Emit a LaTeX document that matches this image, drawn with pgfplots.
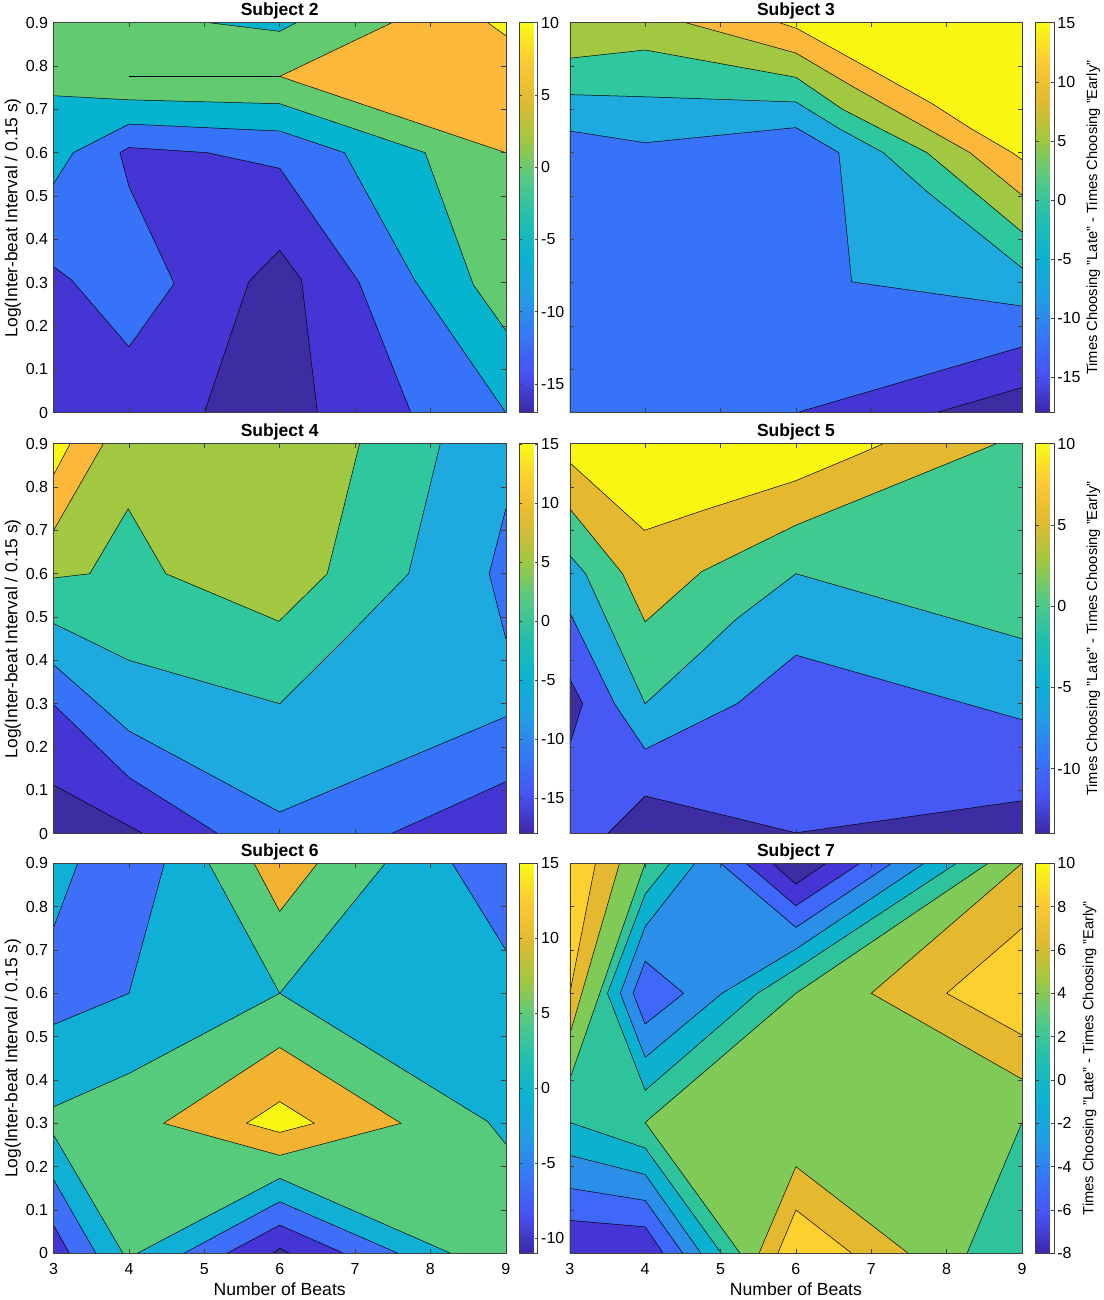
\documentclass[border=0pt]{standalone}
\usepackage{fontspec}
\setmainfont{Liberation Sans}
\usepackage{pgfplots}
\pgfplotsset{compat=1.18}
\newcommand\ticksize{\fontsize{16}{18}\selectfont}
\definecolor{yel}{HTML}{FAF512}
\definecolor{org}{HTML}{FBB83B}
\definecolor{olv}{HTML}{A2C740}
\definecolor{tgr}{HTML}{2EC79E}
\definecolor{cyb}{HTML}{1FAADF}
\definecolor{blu}{HTML}{3673F8}
\definecolor{drk}{HTML}{4635D5}
\definecolor{dst}{HTML}{3C2DA3}
\definecolor{grn}{HTML}{62CB70}
\definecolor{tea}{HTML}{06B4D0}
\definecolor{gol}{HTML}{E4B930}
\definecolor{mgr}{HTML}{40CA90}
\definecolor{ind}{HTML}{4759F5}
\definecolor{cy6}{HTML}{10AFD6}
\definecolor{bl6}{HTML}{3F6EF8}
\definecolor{gr6}{HTML}{57CB7C}
\definecolor{or6}{HTML}{F1B331}
\definecolor{gy7}{HTML}{FCD12F}
\definecolor{gr7}{HTML}{80CB58}
\definecolor{tg7}{HTML}{2EC39A}
\definecolor{cy7}{HTML}{0BB1CF}
\definecolor{b27}{HTML}{2B8EE8}
\definecolor{bl7}{HTML}{3E68F8}
\pgfplotsset{
  colormap={parula}{rgb=(0.2422,0.1504,0.6603) rgb=(0.2810,0.3228,0.9579) rgb=(0.2100,0.4700,0.9700) rgb=(0.1300,0.6200,0.8900) rgb=(0.0400,0.7000,0.8200) rgb=(0.1300,0.7500,0.6800) rgb=(0.3300,0.7900,0.5200) rgb=(0.6300,0.7800,0.2500) rgb=(0.8800,0.7300,0.1900) rgb=(0.9900,0.7900,0.2000) rgb=(0.9769,0.9839,0.0805)},
  tick label style={font=\ticksize},
  contour/.style={draw=black,line width=0.5pt,line join=round,mark=none},
  panel/.style={scale only axis,width=452.2pt,height=390pt,
    xmin=3,xmax=9,ymin=0,ymax=0.9,
    xtick={3,4,5,6,7,8,9},ytick={0,0.1,0.2,0.3,0.4,0.5,0.6,0.7,0.8,0.9},
    xticklabels={},yticklabels={},
    xticklabel style={yshift=-6.5pt},yticklabel style={xshift=-2pt},
    tick align=inside,major tick length=4.5pt,axis on top,
    axis line style={line width=0.5pt,black!75},
    tick style={line width=0.5pt,black!75},
    title style={at={(axis description cs:0.5,1.031)},anchor=center,yshift=-6.5pt,font=\fontsize{17.5}{20}\selectfont\bfseries},
    ylabel style={at={(axis description cs:-0.0898,0.5)},anchor=center,font=\fontsize{17.4}{20}\selectfont},
    xlabel style={at={(axis description cs:0.5,-0.0915)},anchor=center,font=\fontsize{17.6}{20}\selectfont}},
  lefty/.style={yticklabels={0,0.1,0.2,0.3,0.4,0.5,0.6,0.7,0.8,0.9},ylabel={Log(Inter-beat Interval / 0.15 s)}},
  botx/.style={xticklabels={3,4,5,6,7,8,9},xlabel={Number of Beats}},
  cbar/.style n args={4}{colorbar,colormap name=parula,point meta min=#1,point meta max=#2,
    colorbar style={at={(parent axis.north east)},anchor=north west,width=18.3pt,xshift=5pt,ytick={#3},yticklabels={#4},
      major tick length=3pt,tick align=inside,
      axis line style={line width=0.5pt,black!75},tick style={line width=0.4pt,black!75},
      yticklabel style={xshift=0pt},title style={yshift=0pt}}},
  cblab/.style={colorbar style={ylabel={Times Choosing "Late" - Times Choosing "Early"},
      ylabel style={at={(axis description cs:#1,0.5)},anchor=center,rotate=0,font=\fontsize{14.7}{16}\selectfont}}},
}
\newcommand\bg[1]{\addplot[fill=#1,draw=none,mark=none] coordinates {(3,0)(9,0)(9,0.9)(3,0.9)} --cycle;}
\newcommand\layer[3]{\addplot[fill=#1,draw=none,mark=none] coordinates {#2 #3} --cycle;
  \addplot[contour] coordinates {#2};}
\newcommand\island[2]{\addplot[fill=#1,contour] coordinates {#2} --cycle;}
\begin{document}
\begin{tikzpicture}[x=1pt,y=1pt]
\path[use as bounding box] (0,0) rectangle (1103,1300);

% Subject 2
\begin{axis}[panel,lefty,title={Subject 2},at={(53.6pt,887.3pt)},anchor=south west,
  cbar={-17}{10}{-15,-10,-5,0,5,10}{-15,-10,-5,0,5,10}]
\bg{grn}
\layer{tea}{(3,0.7315)(4,0.722)(6,0.713)(7.93,0.6)(8.57,0.295)(9,0.19)}{(9,0)(3,0)}
\layer{blu}{(3,0.528)(3.26,0.6)(4,0.666)(6,0.65)(6.86,0.6)(7.79,0.306)(9,0)}{(3,0)}
\layer{drk}{(3,0.337)(3.24,0.306)(4,0.152)(4.6,0.298)(4,0.522)(3.88,0.6)(4,0.612)(5.04,0.6)(6,0.564)(7.05,0.302)(7.74,0)}{(3,0)}
\layer{dst}{(5,0)(5.59,0.302)(6,0.375)(6.29,0.306)(6.5,0)}{}
\layer{tea}{(5.06,0.9)(6,0.88)(6.22,0.9)}{}
\layer{org}{(7.49,0.9)(6,0.776)(9,0.6)}{(9,0.9)}
\layer{yel}{(8.76,0.9)(9,0.87)}{(9,0.9)}
\addplot[contour] coordinates {(4,0.776)(6,0.776)};
\end{axis}

% Subject 3
\begin{axis}[panel,title={Subject 3},at={(569.8pt,887.3pt)},anchor=south west,
  cbar={-18}{15}{-15,-10,-5,0,5,10,15}{-15,-10,-5,0,5,10,15},cblab=3.16]
\bg{yel}
\layer{org}{(5.78,0.9)(6.01,0.887)(7.8,0.714)(8.31,0.657)(8.87,0.6)(9,0.584)}{(9,0)(3,0)(3,0.9)}
\layer{olv}{(4.54,0.9)(6,0.83)(6.76,0.752)(7.74,0.656)(8.31,0.6)(9,0.502)}{(9,0)(3,0)(3,0.9)}
\layer{tgr}{(3,0.818)(4,0.837)(6,0.774)(6.62,0.7)(7.74,0.6)(9,0.417)}{(9,0)(3,0)}
\layer{cyb}{(3,0.734)(4,0.729)(6,0.717)(6.57,0.656)(7.16,0.6)(7.74,0.51)(9,0.334)}{(9,0)(3,0)}
\layer{blu}{(3,0.65)(4,0.623)(6,0.658)(6.57,0.6)(6.74,0.302)(9,0.246)}{(9,0)(3,0)}
\layer{drk}{(6.01,0)(9,0.152)}{(9,0)}
\layer{dst}{(7.86,0)(9,0.058)}{(9,0)}
\end{axis}

% Subject 4
\begin{axis}[panel,lefty,title={Subject 4},at={(53.6pt,466.3pt)},anchor=south west,
  cbar={-18}{15}{-15,-10,-5,0,5,10,15}{-15,-10,-5,0,5,10,15}]
\bg{drk}
\layer{dst}{(3,0.112)(4.19,0)}{(3,0)}
\layer{blu}{(3,0.298)(4,0.13)(5.18,0)}{(7.48,0)(9,0.12)(9,0.9)(3,0.9)}
\addplot[contour] coordinates {(7.48,0)(9,0.12)};
\layer{cyb}{(3,0.39)(4,0.237)(6,0.05)(9,0.27)}{(9,0.9)(3,0.9)}
\layer{tgr}{(3,0.485)(4,0.4)(6,0.3)(6.87,0.45)(7.71,0.6)(8.13,0.9)}{(3,0.9)}
\layer{olv}{(3,0.59)(3.48,0.6)(3.99,0.75)(4.49,0.6)(5.99,0.49)(6.63,0.6)(7.06,0.9)}{(3,0.9)}
\layer{org}{(3.66,0.9)(3,0.70)}{(3,0.9)}
\layer{yel}{(3.22,0.9)(3,0.828)}{(3,0.9)}
\layer{blu}{(9,0.75)(8.78,0.6)(9,0.45)}{}
\end{axis}

% Subject 5
\begin{axis}[panel,title={Subject 5},at={(569.8pt,466.3pt)},anchor=south west,
  cbar={-14}{10}{-10,-5,0,5,10}{-10,-5,0,5,10},cblab=3.16]
\bg{yel}
\layer{gol}{(3,0.856)(3.99,0.70)(4.75,0.745)(5.99,0.814)(6.76,0.87)(7.16,0.9)}{(9,0.9)(9,0)(3,0)}
\layer{mgr}{(3,0.75)(3.7,0.6)(4,0.489)(4.75,0.605)(6,0.712)(8.66,0.9)}{(9,0.9)(9,0)(3,0)}
\layer{cyb}{(3,0.642)(3.21,0.6)(4,0.3)(4.75,0.42)(5.2,0.494)(6,0.6)(9,0.45)}{(9,0)(3,0)}
\layer{ind}{(3,0.51)(3.6,0.298)(4,0.195)(5.22,0.3)(6,0.412)(9,0.263)}{(9,0)(3,0)}
\layer{dst}{(3.5,0)(4,0.087)(6,0.002)(9,0.076)}{(9,0)}
\layer{dst}{(3,0.357)(3.17,0.30)(3,0.206)}{}
\end{axis}

% Subject 6
\begin{axis}[panel,lefty,botx,title={Subject 6},at={(53.6pt,46.7pt)},anchor=south west,
  cbar={-11}{15}{-10,-5,0,5,10,15}{-10,-5,0,5,10,15}]
\bg{cy6}
\layer{bl6}{(4.47,0.9)(4,0.6)(3,0.528)}{(3,0.9)}
\layer{cy6}{(3.32,0.9)(3,0.752)}{(3,0.9)}
\layer{bl6}{(8.29,0.9)(9,0.7)}{(9,0.9)}
\layer{gr6}{(3,0.338)(4,0.415)(6,0.6)(7.5,0.439)(8.76,0.304)(9,0.252)}{(9,0)(3,0)}
\layer{gr6}{(5.06,0.9)(6,0.6)(7.4,0.9)}{}
\layer{or6}{(5.66,0.9)(6,0.789)(6.5,0.9)}{}
\island{or6}{(4.46,0.3)(6,0.475)(7.61,0.3)(6,0.226)}
\island{yel}{(5.56,0.3)(6,0.35)(6.46,0.3)(6,0.279)}
\layer{cy6}{(3,0.273)(3.92,0)}{(3,0)}
\layer{bl6}{(3,0.17)(3.56,0)}{(3,0)}
\layer{drk}{(3,0.065)(3.21,0)}{(3,0)}
\layer{cy6}{(4.11,0)(6,0.173)(8.27,0)}{}
\layer{bl6}{(4.73,0)(6,0.119)(7.57,0)}{}
\layer{drk}{(5.3,0)(6,0.065)(6.85,0)}{}
\layer{dst}{(5.91,0)(6,0.0115)(6.13,0)}{}
\end{axis}

% Subject 7
\begin{axis}[panel,botx,title={Subject 7},at={(569.8pt,46.7pt)},anchor=south west,
  cbar={-8}{10}{-8,-6,-4,-2,0,2,4,6,8,10}{-8,-6,-4,-2,0,2,4,6,8,10},cblab=2.95]
\bg{tg7}
\layer{gr7}{(4,0.9)(3,0.402)}{(3,0.9)}
\layer{gol}{(3.66,0.9)(3,0.505)}{(3,0.9)}
\layer{gy7}{(3.34,0.9)(3,0.6)}{(3,0.9)}
\layer{cy7}{(4.33,0.9)(4,0.829)(3.5,0.6)(4,0.376)(5.49,0.6)(6,0.656)(8.13,0.9)}{}
\layer{b27}{(4.66,0.9)(4,0.754)(3.67,0.6)(4,0.452)(5.02,0.6)(6,0.702)(7.7,0.9)}{}
\layer{bl7}{(5,0.9)(6,0.752)(7.27,0.9)}{}
\layer{drk}{(5.34,0.9)(6,0.802)(6.85,0.9)}{}
\layer{dst}{(5.69,0.9)(6,0.852)(6.4,0.9)}{}
\island{bl7}{(4,0.674)(4.51,0.6)(4,0.529)(3.84,0.6)}
\layer{gr7}{(5.26,0)(4,0.302)(6,0.6)(8.55,0.9)}{(9,0.9)(9,0)}
\layer{tg7}{(9,0.302)(8.27,0)}{(9,0)}
\layer{gol}{(9,0.9)(7,0.6)(9,0.402)}{}
\layer{gy7}{(9,0.75)(8,0.6)(9,0.504)}{}
\layer{gol}{(5.51,0)(6,0.2)(7.49,0)}{}
\layer{gy7}{(5.76,0)(6,0.1)(6.74,0)}{}
\layer{cy7}{(3,0.302)(4,0.243)(5.01,0)}{(3,0)}
\layer{b27}{(3,0.226)(4,0.182)(4.74,0)}{(3,0)}
\layer{bl7}{(3,0.15)(4,0.122)(4.5,0)}{(3,0)}
\layer{drk}{(3,0.076)(4,0.061)(4.24,0)}{(3,0)}
\end{axis}
\end{tikzpicture}
\end{document}
